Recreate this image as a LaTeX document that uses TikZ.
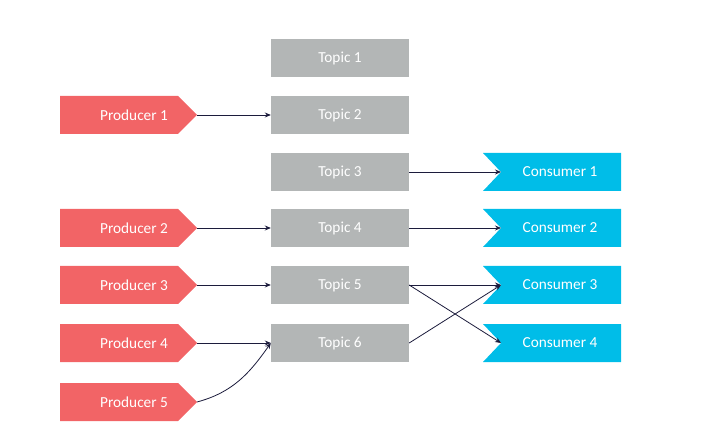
\documentclass[tikz,border=0pt]{standalone}
\usepackage{fontspec}
\setmainfont{Carlito}
\usetikzlibrary{arrows.meta}
\definecolor{prodred}{HTML}{F26466}
\definecolor{topicgray}{HTML}{B3B6B6}
\definecolor{conscyan}{HTML}{00BDE8}
\definecolor{arrowcol}{HTML}{1C1C3C}
\tikzset{
  lbl/.style={text=white,font=\fontsize{15.3}{17}\selectfont,inner sep=0pt},
  topicbox/.style={fill=topicgray,minimum width=138pt,minimum height=38pt,inner sep=0pt,text=white,font=\fontsize{15.3}{17}\selectfont},
  conn/.style={draw=arrowcol,line width=0.8pt,-{Stealth[length=6pt,width=5pt]}},
}
\begin{document}
\begin{tikzpicture}[x=1pt,y=-1pt]
\useasboundingbox (0,0) rectangle (704,438);
% producers
\foreach \n/\y in {1/115,2/228,3/285,4/343,5/402}{
  \fill[prodred] (60,\y-19) -- (178,\y-19) -- (197,\y) -- (178,\y+19) -- (60,\y+19) -- cycle;
  \node[lbl] (p\n) at (134,\y) {Producer \n};
  \coordinate (p\n e) at (197,\y);
}
% topics
\foreach \n/\y in {1/58,2/115,3/172,4/228,5/285,6/343}{
  \node[topicbox] (t\n) at (340,\y) {Topic \n};
}
% consumers
\foreach \n/\y in {1/172,2/228,3/285,4/343}{
  \fill[conscyan] (483,\y-19) -- (621,\y-19) -- (621,\y+19) -- (483,\y+19) -- (501,\y) -- cycle;
  \node[lbl] (c\n) at (560,\y) {Consumer \n};
  \coordinate (c\n w) at (501,\y);
}
% connectors
\draw[conn] (p1e) -- (t2.west);
\draw[conn] (p2e) -- (t4.west);
\draw[conn] (p3e) -- (t5.west);
\draw[conn] (p4e) -- (t6.west);
\draw[conn] (p5e) to[out=15,in=235] (t6.west);
\draw[conn] (t3.east) -- (c1w);
\draw[conn] (t4.east) -- (c2w);
\draw[conn] (t5.east) -- (c3w);
\draw[conn] (t5.east) -- (c4w);
\draw[conn] (t6.east) -- (c3w);
\end{tikzpicture}
\end{document}
